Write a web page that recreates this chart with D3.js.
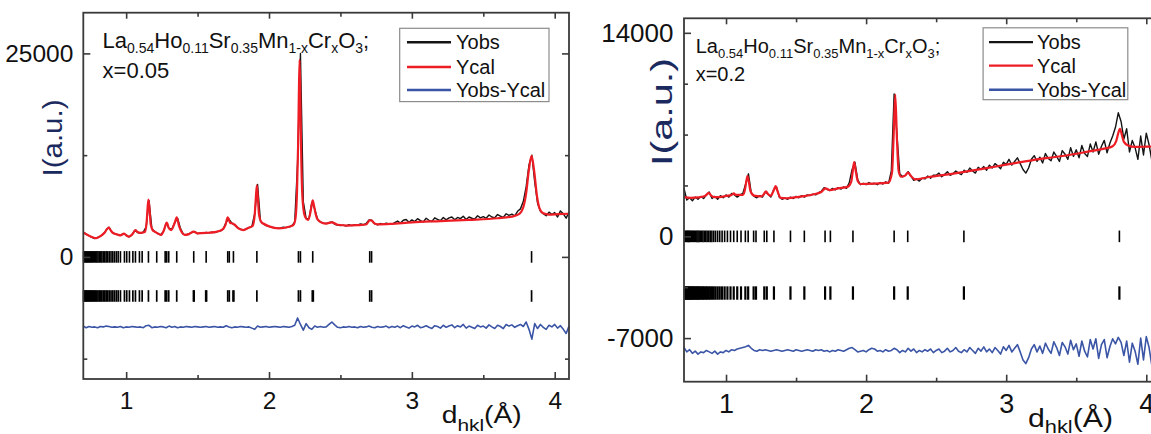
<!DOCTYPE html>
<html>
<head>
<meta charset="utf-8">
<script src="https://cdn.jsdelivr.net/npm/d3@7"></script>
<style>
  body { margin: 0; background: #fff; }
  svg { display: block; }
</style>
</head>
<body>
<svg id="chart" width="1151" height="434"></svg>
<script>
// shared axis values
const xDomain = [0.7, 4.1];
const xMajor = [1, 2, 3, 4];
const xMinor = [1.5, 2.5, 3.5];
const obsStart = 0.70, obsStep = 0.02;   // Yobs / diff sampled every 0.02 A

const legendLabels = ["Yobs", "Ycal", "Yobs-Ycal"];
const formulaParts = [["La",0],["0.54",1],["Ho",0],["0.11",1],["Sr",0],["0.35",1],["Mn",0],["1-x",1],["Cr",0],["x",1],["O",0],["3",1],[";",0]];
const xTitleParts = [["d",0],["hkl",1],["(Å)",0]];
const yTitle = "I(a.u.)";

// ---- panel A : x = 0.05 ----
const compA = "x=0.05";
const yDomainA = [-15000, 30000];
const yMajorA = [0, 25000];
const yMinorA = [-12500, 12500];

const obsA = [
  3050, 2800, 2600, 2400, 2250, 2400, 2550, 2800, 3300, 3650,
  3050, 2850, 2700, 2650, 2850, 2700, 2450, 2700, 3250, 3000,
  2900, 3050, 3700, 6900, 3500, 3100, 2900, 2700, 3100, 4150,
  3500, 3400, 4200, 4750, 3500, 2800, 2700, 2850, 3000, 3100,
  2850, 2950, 2900, 3000, 2950, 3050, 3000, 3100, 3200, 3450,
  4300, 4650, 4150, 3900, 3600, 3400, 3300, 3450, 3600, 3750,
  5300, 8900, 4400, 4050, 3850, 3750, 3650, 3600, 3500, 3550,
  3650, 3600, 3700, 3800, 4300, 11500, 25000, 6800, 4700, 4700,
  6700, 5900, 4600, 4300, 4150, 4100, 4200, 4300, 4000, 3900,
  3850, 3900, 3800, 3950, 3850, 3950, 3900, 4050, 3950, 4100,
  4550, 4500, 4050, 3950, 4100, 4000, 4150, 4050, 4000, 4200,
  4400, 4150, 4500, 4600, 4250, 4550, 4350, 4700, 4450, 4300,
  4750, 4500, 4350, 4800, 4600, 4450, 4850, 4550, 4800, 4900,
  4550, 4850, 4700, 5000, 4600, 4900, 4750, 4650, 5050, 4800,
  4950, 4750, 5150, 4900, 4800, 5200, 5000, 4850, 5300, 5100,
  5250, 5050, 5600, 5900, 6800, 8600, 11300, 12500, 9200, 6600,
  5600, 5300, 5050, 5500, 5200, 5450, 4900, 5650, 5300, 4750,
  5500
];

const calA = [
  [0.70, 2970], [0.73, 2700], [0.76, 2450], [0.79, 2300], [0.82, 2550], [0.85, 3000],
  [0.865, 3400], [0.878, 3600], [0.892, 3250], [0.91, 2900], [0.94, 2750], [0.96, 2650],
  [0.985, 2850], [1.0, 2650], [1.02, 2500], [1.045, 2800], [1.065, 3300], [1.08, 3050],
  [1.10, 2950], [1.13, 3050], [1.142, 4000], [1.15, 6000], [1.156, 7050], [1.163, 6000],
  [1.172, 4000], [1.185, 3300], [1.20, 3100], [1.225, 2850], [1.245, 2700], [1.265, 3300],
  [1.284, 4200], [1.30, 3500], [1.315, 3300], [1.34, 4200], [1.354, 4850], [1.37, 3800],
  [1.39, 3000], [1.41, 2700], [1.44, 2800], [1.473, 3100], [1.50, 2900], [1.56, 2950],
  [1.62, 3050], [1.67, 3300], [1.695, 3900], [1.711, 4850], [1.728, 4200], [1.745, 4100],
  [1.76, 3950], [1.785, 3500], [1.82, 3300], [1.86, 3600], [1.885, 3800], [1.90, 5200],
  [1.908, 7300], [1.915, 8800], [1.922, 7300], [1.93, 5200], [1.945, 4300], [1.96, 4100],
  [2.0, 3750], [2.07, 3500], [2.14, 3700], [2.17, 3900], [2.185, 4700], [2.196, 8000],
  [2.204, 14000], [2.209, 20000], [2.214, 24200], [2.219, 20000], [2.224, 14000], [2.232, 8000],
  [2.245, 5400], [2.26, 4700], [2.275, 4550], [2.288, 5300], [2.298, 6300], [2.306, 6950],
  [2.315, 6300], [2.326, 5300], [2.34, 4600], [2.37, 4200], [2.40, 4100], [2.44, 4250],
  [2.48, 3950], [2.55, 3850], [2.62, 3900], [2.68, 3980], [2.695, 4300], [2.705, 4500],
  [2.712, 4480], [2.72, 4450], [2.735, 4150], [2.76, 4000], [2.85, 4050], [3.0, 4250],
  [3.2, 4400], [3.4, 4550], [3.6, 4750], [3.7, 4950], [3.75, 5250], [3.78, 6100],
  [3.80, 7800], [3.818, 10500], [3.838, 12400], [3.858, 10300], [3.875, 7600], [3.895, 5900],
  [3.92, 5350], [3.96, 5200], [4.02, 5250], [4.10, 5300]
];

const diffA = [
  -8500, -8700, -8550, -8650, -8600, -8700, -8550, -8600, -8500, -8550,
  -8650, -8600, -8650, -8550, -8700, -8600, -8650, -8550, -8600, -8650,
  -8600, -8700, -8450, -8400, -8700, -8600, -8650, -8550, -8600, -8700,
  -8500, -8650, -8550, -8700, -8600, -8650, -8550, -8600, -8650, -8550,
  -8600, -8650, -8600, -8550, -8650, -8600, -8550, -8650, -8600, -8650,
  -8450, -8600, -8700, -8600, -8650, -8550, -8600, -8650, -8600, -8750,
  -8900, -8500, -8650, -8600, -8550, -8650, -8600, -8550, -8600, -8650,
  -8550, -8600, -8650, -8550, -8400, -7500, -8300, -9000, -8200, -8700,
  -8900, -8500, -8650, -8550, -8650, -8600, -8300, -8000, -8350, -8650,
  -8700, -8600, -8650, -8550, -8650, -8600, -8700, -8550, -8650, -8600,
  -8500, -8650, -8700, -8550, -8650, -8600, -8500, -8700, -8550, -8650,
  -8500, -8700, -8450, -8600, -8750, -8500, -8600, -8400, -8700, -8600,
  -8450, -8650, -8800, -8450, -8550, -8750, -8400, -8650, -8500, -8350,
  -8700, -8450, -8600, -8300, -8750, -8500, -8650, -8800, -8400, -8600,
  -8500, -8750, -8350, -8600, -8800, -8400, -8550, -8800, -8300, -8500,
  -8350, -8650, -8450, -8300, -8550, -8000, -8900, -10100, -8200, -8800,
  -8300, -8650, -8900, -8400, -8600, -8300, -8750, -8450, -8900, -9400,
  -8500
];

const braggA1 = [0.702, 0.709, 0.716, 0.722, 0.728, 0.735, 0.742, 0.749, 0.756, 0.763, 0.771, 0.779,
  0.787, 0.795, 0.803, 0.812, 0.821, 0.830, 0.840, 0.850, 0.860, 0.871, 0.882, 0.894, 0.906, 0.918,
  0.931, 0.944, 0.96, 0.988, 1.004, 1.023, 1.047, 1.065, 1.093, 1.112, 1.156, 1.214, 1.273, 1.284,
  1.298, 1.354, 1.473, 1.56, 1.711, 1.722, 1.751, 1.915, 2.206, 2.22, 2.306, 2.705, 2.718, 3.838];
const braggA2 = [0.702, 0.709, 0.716, 0.722, 0.728, 0.735, 0.742, 0.749, 0.756, 0.763, 0.771, 0.779,
  0.787, 0.795, 0.803, 0.812, 0.821, 0.830, 0.840, 0.850, 0.860, 0.871, 0.882, 0.894, 0.906, 0.918,
  0.931, 0.944, 0.96, 0.988, 1.004, 1.023, 1.047, 1.065, 1.093, 1.112, 1.156, 1.214, 1.273, 1.284,
  1.298, 1.354, 1.471, 1.476, 1.557, 1.563, 1.711, 1.722, 1.748, 1.754, 1.915, 2.206, 2.22, 2.303,
  2.31, 2.705, 2.718, 3.838];
const braggRowsA = [0, -4800];

// ---- panel B : x = 0.2 ----
const compB = "x=0.2";
const yDomainB = [-10000, 15000];
const yMajorB = [-7000, 0, 14000];
const yMinorB = [-3500, 3500, 7000, 10500];

const obsB = [
  3300, 2500, 2650, 2450, 2700, 2550, 2750, 2600, 2850, 3050,
  2600, 2750, 2550, 2800, 2650, 2850, 2700, 2950, 2850, 2700,
  2850, 2950, 3600, 4300, 3000, 2750, 2650, 2800, 2700, 3050,
  2900, 2700, 3200, 3400, 2700, 2550, 2650, 2550, 2700, 2600,
  2750, 2650, 2800, 2700, 2850, 2800, 2900, 2850, 3000, 3100,
  3350, 3250, 3150, 3300, 3200, 3350, 3250, 3400, 3300, 3700,
  4600, 5100, 3900, 3550, 3650, 3550, 3700, 3600, 3650, 3550,
  3700, 3600, 3750, 3650, 4500, 9800, 7000, 4300, 4100, 4200,
  4450, 4150, 3850, 3950, 3800, 4000, 3950, 4150, 4000, 4200,
  4200, 4350, 4100, 4250, 4450, 4200, 4300, 4500, 4350, 4250,
  4550, 4400, 4700, 4500, 4350, 4750, 4600, 4800, 4550, 4900,
  4700, 5000, 4850, 4650, 5100, 4950, 5300, 4900, 5150, 5400,
  5000, 4600, 4350, 4700, 5300, 5550, 5150, 5450, 5050, 5700,
  5350, 5200, 5800, 5500, 5150, 5900, 5650, 5300, 6100, 5500,
  5950, 5400, 6250, 5700, 5500, 6350, 5800, 6500, 5650, 6200,
  6600, 5750, 6400, 6900, 7500, 8500, 7900, 6700, 7400, 5800,
  6600, 6100, 5300, 6900, 5600, 7100, 6300, 5200, 6800, 5900,
  6600
];

const calB = [
  [0.70, 2700], [0.75, 2650], [0.80, 2680], [0.85, 2780], [0.865, 2900], [0.878, 3000],
  [0.89, 2850], [0.92, 2700], [0.97, 2720], [1.00, 2780], [1.04, 2850], [1.056, 2950],
  [1.07, 2850], [1.12, 2850], [1.135, 3200], [1.145, 3800], [1.153, 4150], [1.162, 3800],
  [1.175, 3100], [1.20, 2800], [1.25, 2750], [1.27, 2900], [1.285, 3100], [1.30, 2900],
  [1.32, 2800], [1.34, 3150], [1.354, 3450], [1.368, 3100], [1.39, 2650], [1.43, 2620],
  [1.50, 2700], [1.56, 2770], [1.62, 2880], [1.68, 3050], [1.71, 3300], [1.74, 3180],
  [1.80, 3300], [1.87, 3420], [1.895, 3800], [1.906, 4600], [1.915, 5100], [1.925, 4550],
  [1.94, 3800], [1.96, 3600], [2.05, 3620], [2.16, 3700], [2.185, 4400], [2.196, 6800],
  [2.208, 9750], [2.22, 6700], [2.232, 4500], [2.25, 4100], [2.28, 4200], [2.30, 4380],
  [2.32, 4150], [2.35, 3920], [2.45, 4080], [2.6, 4280], [2.7, 4430], [2.85, 4670],
  [3.0, 4930], [3.1, 5100], [3.2, 5260], [3.35, 5460], [3.5, 5680], [3.6, 5860],
  [3.7, 6030], [3.76, 6200], [3.785, 6550], [3.8, 7100], [3.812, 7400], [3.825, 7000],
  [3.84, 6500], [3.87, 6250], [3.92, 6150], [4.0, 6170], [4.1, 6200]
];

const diffB = [
  -7650, -7950, -7800, -8050, -7900, -8100, -7950, -8000, -7850, -7950,
  -8050, -7900, -8100, -7950, -8000, -7850, -7950, -7800, -7850, -7750,
  -7700, -7650, -7600, -7500, -7700, -7850, -7900, -7800, -7850, -7800,
  -7850, -7900, -7850, -7800, -7850, -7900, -7850, -7800, -7850, -7900,
  -7800, -7850, -7900, -7850, -7800, -7850, -7900, -7800, -7850, -7800,
  -7900, -7850, -7950, -7850, -7900, -7800, -7850, -7900, -7800, -7700,
  -7650, -7800, -7950, -7900, -7850, -7950, -7800, -7700, -7750, -7900,
  -7850, -7950, -7800, -7900, -7850, -7700, -7800, -8000, -7850, -7950,
  -7700, -7900, -7750, -8000, -7850, -7950, -7800, -7900, -7750, -8000,
  -7850, -7750, -8000, -7900, -7700, -7950, -7850, -7650, -7900, -8000,
  -7800, -7950, -7650, -7850, -8050, -7700, -7900, -7600, -7950, -7750,
  -8000, -7650, -7850, -8100, -7600, -7850, -7500, -7950, -7700, -7450,
  -7950, -8500, -8750, -8350, -7750, -7450, -7950, -7550, -8050, -7350,
  -7750, -8050, -7250, -7650, -8200, -7300, -7600, -8100, -7150, -7800,
  -7400, -8250, -7200, -7900, -8300, -7100, -7750, -7050, -8400, -7450,
  -7100, -8350, -7600, -7050, -7400, -6950, -7300, -8200, -7200, -8650,
  -7350, -7900, -8800, -7000, -8500, -6900, -7650, -8900, -7100, -8200,
  -7500
];

const braggB1 = [0.705, 0.711, 0.717, 0.723, 0.729, 0.735, 0.741, 0.748, 0.755, 0.762, 0.769, 0.776,
  0.784, 0.792, 0.80, 0.808, 0.817, 0.826, 0.835, 0.845, 0.855, 0.865, 0.876, 0.887, 0.899, 0.912,
  0.925, 0.94, 0.955, 0.972, 0.99, 1.01, 1.032, 1.055, 1.08, 1.107, 1.138, 1.158, 1.197, 1.214,
  1.273, 1.291, 1.342, 1.46, 1.559, 1.707, 1.745, 1.906, 2.2, 2.297, 2.698, 3.808];
const braggB2 = [0.705, 0.711, 0.717, 0.723, 0.729, 0.735, 0.741, 0.748, 0.755, 0.762, 0.769, 0.776,
  0.784, 0.792, 0.80, 0.808, 0.817, 0.826, 0.835, 0.845, 0.855, 0.865, 0.876, 0.887, 0.899, 0.912,
  0.925, 0.94, 0.955, 0.972, 0.99, 1.01, 1.032, 1.055, 1.08, 1.107, 1.138, 1.158, 1.197, 1.214,
  1.273, 1.291, 1.342, 1.46, 1.559, 1.707, 1.745, 1.906, 2.2, 2.297, 2.698, 3.808];
const braggRowsB = [0, -3900];

// ---- drawing ----
const FONT = '"Liberation Sans", Arial, Helvetica, sans-serif';
const C_OBS = "#141414", C_CAL = "#ee1d25", C_DIFF = "#3b55a6", C_FRAME = "#3a3a3a", C_TITLE = "#1b2a5e";
const svg = d3.select("#chart");
svg.append("rect").attr("width", 1151).attr("height", 434).attr("fill", "#fff");

function richText(sel, parts, size, subSize, shift) {
  let cur = 0;
  parts.forEach(([t, sub]) => {
    const target = sub ? shift : 0;
    sel.append("tspan").attr("dy", target - cur).attr("font-size", sub ? subSize : size).text(t);
    cur = target;
  });
}

function drawPanel(p) {
  const x = d3.scaleLinear().domain(xDomain).range([p.left, p.right]);
  const y = d3.scaleLinear().domain(p.yDomain).range([p.bottom, p.top]);
  const g = svg.append("g");

  const obsPts = p.obs.map((v, i) => [obsStart + i * obsStep, v]);
  const diffPts = p.diff.map((v, i) => [obsStart + i * obsStep, v]);
  const lin = d3.line().x(d => x(d[0])).y(d => y(d[1]));
  const smooth = d3.line().x(d => x(d[0])).y(d => y(d[1])).curve(d3.curveMonotoneX);

  g.append("path").datum(obsPts).attr("d", lin)
    .attr("fill", "none").attr("stroke", C_OBS).attr("stroke-width", 1.4).attr("stroke-linejoin", "round");
  g.append("path").datum(p.cal).attr("d", smooth)
    .attr("fill", "none").attr("stroke", C_CAL).attr("stroke-width", 2.2).attr("stroke-linejoin", "round");
  g.append("path").datum(diffPts).attr("d", lin)
    .attr("fill", "none").attr("stroke", C_DIFF).attr("stroke-width", 1.6).attr("stroke-linejoin", "round");

  // Bragg position markers
  p.bragg.forEach((row, r) => {
    const cy = y(p.braggRows[r]);
    g.append("g").selectAll("line").data(row).join("line")
      .attr("x1", d => x(d)).attr("x2", d => x(d))
      .attr("y1", cy - p.braggHalf[r]).attr("y2", cy + p.braggHalf[r])
      .attr("stroke", "#000").attr("stroke-width", p.braggWidth[r]);
  });

  // frame + inward ticks
  g.append("rect")
    .attr("x", p.left).attr("y", p.top)
    .attr("width", p.right - p.left).attr("height", p.bottom - p.top)
    .attr("fill", "none").attr("stroke", C_FRAME).attr("stroke-width", 1.8);

  const fmt = d => String(d);
  const axes = [
    [d3.axisBottom(x).tickValues(xMajor).tickSize(-7).tickPadding(p.xPad).tickFormat(fmt), `translate(0,${p.bottom})`, p.xFont],
    [d3.axisBottom(x).tickValues(xMinor).tickSize(-4).tickFormat(""), `translate(0,${p.bottom})`, 0],
    [d3.axisTop(x).tickValues(xMajor).tickSize(-6).tickFormat(""), `translate(0,${p.top})`, 0],
    [d3.axisTop(x).tickValues(xMinor).tickSize(-4).tickFormat(""), `translate(0,${p.top})`, 0],
    [d3.axisLeft(y).tickValues(p.yMajor).tickSize(-7).tickPadding(p.yPad).tickFormat(fmt), `translate(${p.left},0)`, p.yFont],
    [d3.axisLeft(y).tickValues(p.yMinor).tickSize(-4).tickFormat(""), `translate(${p.left},0)`, 0],
    [d3.axisRight(y).tickValues(p.yMajor).tickSize(-7).tickFormat(""), `translate(${p.right},0)`, 0],
    [d3.axisRight(y).tickValues(p.yMinor).tickSize(-4).tickFormat(""), `translate(${p.right},0)`, 0]
  ];
  axes.forEach(([ax, tr, fs]) => {
    const a = g.append("g").attr("transform", tr).call(ax);
    a.select(".domain").remove();
    a.attr("color", C_FRAME).attr("font-family", FONT).attr("font-size", fs || 10);
    a.selectAll(".tick line").attr("stroke-width", 1.6);
    a.selectAll(".tick text").attr("fill", "#111");
  });

  // y title
  g.append("text")
    .attr("transform", `translate(${p.yTitleX},${p.yTitleY}) rotate(-90)`)
    .attr("text-anchor", "middle").attr("dominant-baseline", "central")
    .attr("font-family", FONT).attr("font-size", p.yTitleFont).attr("fill", C_TITLE)
    .attr("textLength", p.yTitleLen).attr("lengthAdjust", "spacingAndGlyphs")
    .text(yTitle);

  // x title
  const xt = g.append("text").attr("x", p.xTitleX).attr("y", p.xTitleY)
    .attr("font-family", FONT).attr("fill", "#111")
    .attr("textLength", p.xTitleLen).attr("lengthAdjust", "spacingAndGlyphs");
  richText(xt, xTitleParts, p.xTitleFont, p.xTitleSub, p.xTitleShift);

  // composition label
  const ft = g.append("text").attr("x", p.formX).attr("y", p.formY)
    .attr("font-family", FONT).attr("fill", "#111");
  richText(ft, formulaParts, p.formFont, p.formSub, p.formShift);
  g.append("text").attr("x", p.formX).attr("y", p.compY)
    .attr("font-family", FONT).attr("font-size", p.formFont).attr("fill", "#111")
    .text(p.comp);

  // legend
  const L = p.legend;
  g.append("rect").attr("x", L.x).attr("y", L.y).attr("width", L.w).attr("height", L.h)
    .attr("fill", "#fff").attr("stroke", "#8c8c8c").attr("stroke-width", 1.2);
  const colors = [C_OBS, C_CAL, C_DIFF];
  legendLabels.forEach((lab, i) => {
    const ly = L.rows[i];
    g.append("line").attr("x1", L.lx1).attr("x2", L.lx2).attr("y1", ly).attr("y2", ly)
      .attr("stroke", colors[i]).attr("stroke-width", 2.4);
    g.append("text").attr("x", L.tx).attr("y", ly + 7)
      .attr("font-family", FONT).attr("font-size", L.font).attr("fill", "#111").text(lab);
  });
}

drawPanel({
  left: 83.3, right: 569, top: 12.7, bottom: 379,
  yDomain: yDomainA, yMajor: yMajorA, yMinor: yMinorA,
  obs: obsA, cal: calA, diff: diffA,
  bragg: [braggA1, braggA2], braggRows: braggRowsA, braggHalf: [5.8, 5.8], braggWidth: [1.6, 1.7],
  xPad: 12.6, xFont: 24.5, yPad: 10, yFont: 24.5,
  yTitleX: 52.5, yTitleY: 138, yTitleFont: 28, yTitleLen: 77,
  xTitleX: 441.7, xTitleY: 423, xTitleFont: 23, xTitleSub: 17, xTitleShift: 8, xTitleLen: 80,
  formX: 102.6, formY: 47.6, compY: 78.3, formFont: 22, formSub: 14, formShift: 5, comp: compA,
  legend: { x: 399.7, y: 28.3, w: 149.3, h: 73.3, rows: [42.3, 67, 90], lx1: 407, lx2: 451, tx: 456, font: 20 }
});

drawPanel({
  left: 684, right: 1160.3, top: 18.3, bottom: 381.7,
  yDomain: yDomainB, yMajor: yMajorB, yMinor: yMinorB,
  obs: obsB, cal: calB, diff: diffB,
  bragg: [braggB1, braggB2], braggRows: braggRowsB, braggHalf: [5.8, 6.7], braggWidth: [1.6, 2.2],
  xPad: 11.8, xFont: 27, yPad: 10.5, yFont: 26,
  yTitleX: 661, yTitleY: 112, yTitleFont: 30, yTitleLen: 108,
  xTitleX: 1028, xTitleY: 427, xTitleFont: 25, xTitleSub: 18, xTitleShift: 6, xTitleLen: 85,
  formX: 695.7, formY: 53, compY: 81.4, formFont: 20, formSub: 13, formShift: 5, comp: compB,
  legend: { x: 983.1, y: 27.8, w: 144.7, h: 71.9, rows: [42.1, 65.6, 89.7], lx1: 989, lx2: 1033, tx: 1037, font: 20 }
});
</script>
</body>
</html>
